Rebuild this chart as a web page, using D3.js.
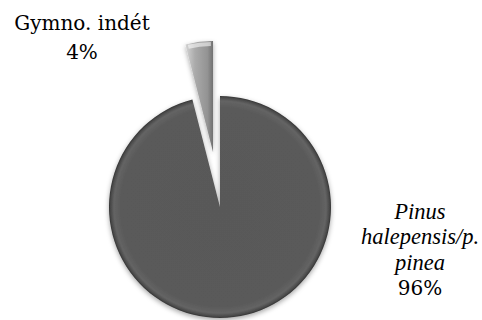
<!DOCTYPE html>
<html>
<head>
<meta charset="utf-8">
<script src="https://cdn.jsdelivr.net/npm/d3@7"></script>
<style>
html,body{margin:0;padding:0;background:#fff;}
svg{display:block;}
</style>
</head>
<body>
<svg id="chart" width="482" height="320"></svg>
<script>
const categories = ["Pinus halepensis/p. pinea", "Gymno. indét"];
const values = [96, 4];
const percentLabels = ["96%", "4%"];
const labelLines = [["Pinus", "halepensis/p.", "pinea"], ["Gymno. indét"]];
const italicLabel = [true, false];
const explodeFrac = [0, 0.5];

const W = 482, H = 320;
const cx = 220, cy = 207, R = 111;
const svg = d3.select("#chart");
const defs = svg.append("defs");

const f = defs.append("filter").attr("id","shadow").attr("x","-20%").attr("y","-20%").attr("width","140%").attr("height","140%");
f.append("feDropShadow").attr("dx",0).attr("dy",2).attr("stdDeviation",2.5).attr("flood-color","#000").attr("flood-opacity",0.35);

const g1 = defs.append("radialGradient").attr("id","gMain").attr("gradientUnits","userSpaceOnUse")
  .attr("cx",0).attr("cy",0).attr("r",R);
[[0,"#595959"],[0.9,"#5a5a5a"],[0.955,"#646464"],[0.985,"#4a4a4a"],[1,"#333"]].forEach(s=>g1.append("stop").attr("offset",s[0]).attr("stop-color",s[1]));

const g2 = defs.append("linearGradient").attr("id","gSmall").attr("x1","0").attr("y1","0").attr("x2","1").attr("y2","0");
[[0,"#d4d4d4"],[0.35,"#aaaaaa"],[0.8,"#939393"],[1,"#707070"]].forEach(s=>g2.append("stop").attr("offset",s[0]).attr("stop-color",s[1]));
const fills = ["url(#gMain)", "url(#gSmall)"];

const pie = d3.pie().sort(null).value(d=>d);
const arcs = pie(values);
const arc = d3.arc().innerRadius(0).outerRadius(R);

const g = svg.append("g").attr("transform",`translate(${cx},${cy})`);
arcs.forEach((a,i)=>{
  const mid = (a.startAngle + a.endAngle)/2;
  const off = explodeFrac[i]*R;
  const dx = Math.sin(mid)*off, dy = -Math.cos(mid)*off;
  g.append("path").attr("d",arc(a)).attr("transform",`translate(${dx},${dy})`)
    .attr("fill",fills[i]).attr("filter","url(#shadow)");
});

const hiArc = d3.arc().innerRadius(R-5).outerRadius(R-1);
{
  const a = arcs[1]; const mid=(a.startAngle+a.endAngle)/2; const off=explodeFrac[1]*R;
  g.append("path").attr("d",hiArc({startAngle:a.startAngle+0.02,endAngle:a.endAngle-0.02}))
   .attr("transform",`translate(${Math.sin(mid)*off},${-Math.cos(mid)*off})`)
   .attr("fill","#fff").attr("opacity",0.55);
}

const labelPos = [{x:420, y:219}, {x:82, y:30}];
const lineH = [25.3, 29];
const uprightFont = "'DejaVu Serif', serif";
const italicFont = "'Liberation Serif', serif";
arcs.forEach((a,i)=>{
  const t = svg.append("text").attr("text-anchor","middle").attr("fill","#000");
  const lines = labelLines[i];
  lines.forEach((l,k)=>{
    t.append("tspan").attr("x",labelPos[i].x).attr("y",labelPos[i].y + k*lineH[i])
     .attr("font-family", italicLabel[i] ? italicFont : uprightFont)
     .attr("font-size", italicLabel[i] ? 22.5 : 20)
     .attr("font-style", italicLabel[i] ? "italic" : "normal").text(l);
  });
  t.append("tspan").attr("x",labelPos[i].x).attr("y",labelPos[i].y + lines.length*lineH[i])
   .attr("font-family", uprightFont).attr("font-size",20).text(percentLabels[i]);
});
</script>
</body>
</html>
